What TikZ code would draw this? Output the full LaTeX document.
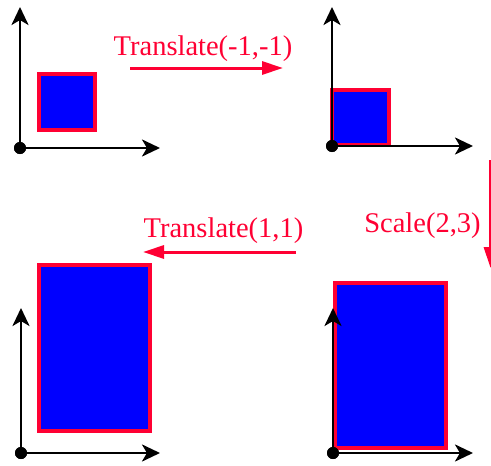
\documentclass[tikz,border=0pt]{standalone}
\usepackage{fontspec}
\setmainfont{Liberation Serif}
\usetikzlibrary{arrows.meta}
\definecolor{myred}{RGB}{255,0,51}
\definecolor{myblue}{RGB}{0,0,255}
\tikzset{
  axis/.style={draw=black, line width=2.8pt, -{Stealth[length=18pt,width=17pt,inset=5pt]}},
  dotnode/.style={circle, fill=black, inner sep=0pt, minimum size=12pt},
  box/.style={draw=myred, fill=myblue, line width=4.2pt},
  lbl/.style={text=myred, font=\fontsize{28.5}{30}\selectfont, inner sep=0pt, anchor=base},
  redarrow/.style={draw=myred, line width=3pt, -{Triangle[length=21pt,width=13pt]}}
}
\begin{document}
\begin{tikzpicture}[x=1pt,y=-1pt]
\useasboundingbox (0,0) rectangle (491,466);
% rectangles
\draw[box] (39,74) rectangle (95,130);
\draw[box] (332,90) rectangle (389,145);
\draw[box] (39,265) rectangle (150,431);
\draw[box] (335,283) rectangle (446,448);
% axes panel 1
\node[dotnode] (o1) at (20,148) {};
\coordinate (y1) at (20,7);
\coordinate (x1) at (160,148);
\draw[axis] (o1.center) -- (y1);
\draw[axis] (o1.center) -- (x1);
% axes panel 2
\node[dotnode] (o2) at (332,146) {};
\coordinate (y2) at (332,7);
\coordinate (x2) at (473,146);
\draw[axis] (o2.center) -- (y2);
\draw[axis] (o2.center) -- (x2);
% axes panel 3
\node[dotnode] (o3) at (21,453) {};
\coordinate (y3) at (21,308);
\coordinate (x3) at (160,453);
\draw[axis] (o3.center) -- (y3);
\draw[axis] (o3.center) -- (x3);
% axes panel 4
\node[dotnode] (o4) at (333,453) {};
\coordinate (y4) at (333,308);
\coordinate (x4) at (473,453);
\draw[axis] (o4.center) -- (y4);
\draw[axis] (o4.center) -- (x4);
% redraw dots on top
\fill (o1) circle (6pt);
\fill (o2) circle (6pt);
\fill (o3) circle (6pt);
\fill (o4) circle (6pt);
% labels
\node[lbl] (t1) at (203,55) {Translate(-1,-1)};
\node[lbl] (t2) at (422.5,232) {Scale(2,3)};
\node[lbl] (t3) at (223.5,237) {Translate(1,1)};
% transformation arrows
\coordinate (a1s) at (130,68);
\coordinate (a1e) at (283,68);
\draw[redarrow] (a1s) -- (a1e);
\coordinate (a2s) at (490.5,160);
\coordinate (a2e) at (490.5,268);
\draw[redarrow] (a2s) -- (a2e);
\coordinate (a3s) at (296,252);
\coordinate (a3e) at (143,252);
\draw[redarrow] (a3s) -- (a3e);
\end{tikzpicture}
\end{document}
